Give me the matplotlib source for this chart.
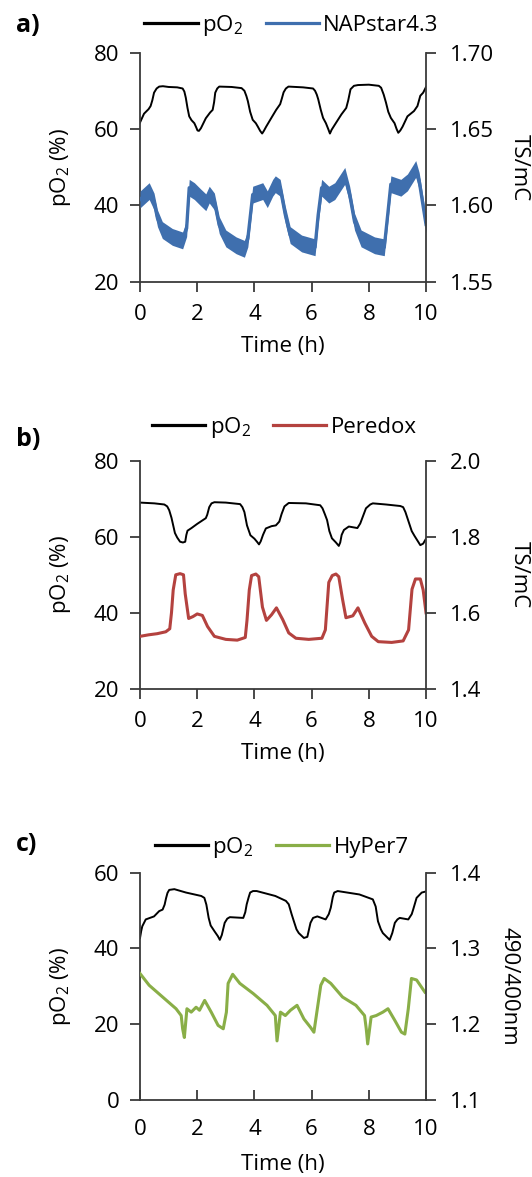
import matplotlib
matplotlib.use("Agg")
import matplotlib.pyplot as plt
from matplotlib.ticker import FormatStrFormatter

plt.rcParams["font.family"] = ["Open Sans", "DejaVu Sans"]
plt.rcParams["mathtext.fontset"] = "custom"
plt.rcParams["mathtext.rm"] = "Open Sans"
plt.rcParams["font.size"] = 16

PO2 = r"p$\mathregular{O_2}$"

# ---- panel a: pO2 and NAPstar4.3 ----
a_po2_t = [0, 0.14, 0.3, 0.37, 0.43, 0.49, 0.58, 0.67, 0.8, 1.0,
           1.3, 1.49, 1.55, 1.6, 1.66, 1.72, 1.8, 1.9, 1.96, 2.01,
           2.06, 2.13, 2.3, 2.45, 2.54, 2.59, 2.63, 2.7, 2.77, 3.2,
           3.55, 3.65, 3.72, 3.77, 3.85, 3.94, 4.05, 4.12, 4.2, 4.27,
           4.33, 4.41, 4.6, 4.76, 4.9, 4.96, 5.02, 5.1, 5.19, 5.7,
           6.05, 6.12, 6.18, 6.23, 6.32, 6.4, 6.5, 6.58, 6.64, 6.7,
           6.81, 7.04, 7.21, 7.28, 7.36, 7.48, 7.62, 8.0, 8.35, 8.43,
           8.52, 8.6, 8.68, 8.77, 8.9, 8.97, 9.03, 9.1, 9.18, 9.35,
           9.58, 9.7, 9.8, 9.9, 10.0]
a_po2 = [61.7, 64.0, 65.2, 66.0, 67.5, 69.5, 70.6, 71.1, 71.2, 71.0,
         70.9, 70.6, 69.8, 68.2, 65.5, 63.3, 62.3, 61.5, 60.5, 59.6,
         59.5, 60.2, 62.8, 64.3, 65.0, 67.0, 69.5, 70.6, 71.1, 71.0,
         70.7, 70.0, 68.6, 67.3, 64.5, 62.4, 61.5, 60.6, 59.5, 58.8,
         59.5, 60.6, 63.0, 65.0, 66.5, 68.0, 69.6, 70.6, 71.1, 70.9,
         70.6, 70.0, 69.0, 67.8, 65.0, 62.9, 61.5, 60.0, 58.8, 59.8,
         61.1, 63.8, 65.5, 67.5, 70.4, 71.3, 71.5, 71.6, 71.3, 70.8,
         69.0, 66.9, 64.5, 62.9, 61.5, 60.0, 59.0, 59.6, 60.6, 63.3,
         64.7, 66.0, 68.7, 69.5, 71.0]

a_nap_t = [0, 0.32, 0.49, 0.61, 0.78, 1.13, 1.49, 1.63, 1.72, 1.9,
           2.13, 2.3, 2.42, 2.6, 2.77, 3.0, 3.36, 3.65, 3.77, 3.94,
           4.29, 4.45, 4.64, 4.73, 4.9, 5.08, 5.25, 5.65, 6.12, 6.23,
           6.35, 6.6, 6.81, 7.16, 7.33, 7.5, 7.73, 8.2, 8.54, 8.66,
           8.77, 9.12, 9.35, 9.64, 9.76, 10.0]
a_nap = [1.6038, 1.6093, 1.6025, 1.5915, 1.5838, 1.5793, 1.5770, 1.5850, 1.6115, 1.6093,
         1.6050, 1.6020, 1.6070, 1.6025, 1.5870, 1.5783, 1.5738, 1.5715, 1.5783, 1.6070,
         1.6093, 1.6040, 1.6115, 1.6138, 1.6115, 1.5938, 1.5805, 1.5750, 1.5725, 1.5938,
         1.6115, 1.6070, 1.6093, 1.6193, 1.6070, 1.5893, 1.5783, 1.5738, 1.5725, 1.5938,
         1.6138, 1.6115, 1.6150, 1.6238, 1.6160, 1.5875]
a_nap_noise = 0.0055

# ---- panel b: pO2 and Peredox ----
b_po2_t = [0, 0.5, 0.85, 0.95, 1.02, 1.1, 1.16, 1.22, 1.3, 1.4,
           1.5, 1.58, 1.62, 1.66, 1.8, 2.0, 2.3, 2.35, 2.42, 2.5,
           2.6, 3.0, 3.5, 3.58, 3.65, 3.74, 3.86, 4.0, 4.1, 4.16,
           4.22, 4.3, 4.4, 4.6, 4.75, 4.87, 4.95, 5.05, 5.2, 5.8,
           6.3, 6.38, 6.46, 6.54, 6.62, 6.71, 6.85, 6.95, 7.0, 7.05,
           7.13, 7.3, 7.6, 7.7, 7.8, 7.9, 8.05, 8.14, 8.6, 9.1,
           9.2, 9.28, 9.39, 9.5, 9.6, 9.7, 9.8, 9.9, 10.0]
b_po2 = [69.0, 68.8, 68.5, 68.0, 67.0, 65.0, 63.0, 61.0, 59.8, 58.7,
         58.5, 58.7, 60.5, 61.6, 62.3, 63.4, 64.9, 65.8, 67.8, 68.8,
         69.1, 69.0, 68.6, 67.8, 66.5, 63.0, 60.4, 59.5, 58.6, 58.0,
         58.8, 60.5, 62.2, 62.8, 63.0, 64.0, 66.0, 68.0, 68.9, 68.8,
         68.3, 67.5, 66.0, 64.4, 61.5, 59.6, 58.5, 57.6, 58.5, 60.5,
         61.8, 62.7, 62.3, 63.5, 65.5, 67.5, 68.5, 68.8, 68.5, 68.1,
         67.8, 66.5, 64.0, 61.5, 60.2, 59.0, 57.8, 58.2, 59.5]

b_per_t = [0, 0.3, 0.6, 0.9, 1.04, 1.1, 1.16, 1.25, 1.4, 1.52, 1.58, 1.7, 1.85, 2.0, 2.18, 2.36,
           2.6, 3.0, 3.4, 3.68, 3.74, 3.82, 3.9, 4.05, 4.15, 4.28, 4.42, 4.6, 4.77, 4.99, 5.2,
           5.45, 5.9, 6.36, 6.48, 6.6, 6.72, 6.85, 6.95, 7.08, 7.2, 7.44, 7.62, 7.86, 8.1, 8.33,
           8.8, 9.2, 9.39, 9.51, 9.63, 9.8, 9.9, 10.0]
b_per = [1.538, 1.542, 1.545, 1.550, 1.558, 1.600, 1.660, 1.700, 1.703, 1.700, 1.650, 1.585,
         1.590, 1.597, 1.593, 1.564, 1.538, 1.530, 1.528, 1.535, 1.580, 1.660, 1.698, 1.702,
         1.695, 1.615, 1.580, 1.595, 1.613, 1.582, 1.547, 1.533, 1.530, 1.533, 1.555, 1.680,
         1.698, 1.702, 1.695, 1.636, 1.587, 1.592, 1.613, 1.573, 1.538, 1.524, 1.522, 1.526,
         1.555, 1.662, 1.689, 1.689, 1.660, 1.600]

# ---- panel c: pO2 and HyPer7 ----
c_po2_t = [0, 0.04, 0.08, 0.2, 0.49, 0.67, 0.79, 0.86, 0.91, 0.96,
           1.02, 1.2, 1.61, 2.14, 2.25, 2.32, 2.4, 2.47, 2.61, 2.72,
           2.79, 2.86, 2.96, 3.05, 3.14, 3.61, 3.68, 3.73, 3.8, 3.85,
           3.95, 4.08, 4.73, 5.1, 5.2, 5.3, 5.38, 5.47, 5.55, 5.73,
           5.85, 5.96, 6.05, 6.2, 6.49, 6.6, 6.67, 6.74, 6.79, 6.91,
           7.67, 8.14, 8.24, 8.32, 8.42, 8.49, 8.73, 8.82, 8.91, 9.0,
           9.08, 9.38, 9.5, 9.55, 9.62, 9.67, 9.85, 10.0]
c_po2 = [42.7, 44.5, 45.8, 47.6, 48.4, 49.8, 50.2, 51.5, 53.2, 54.6,
         55.4, 55.6, 54.7, 53.8, 53.3, 51.5, 48.0, 46.0, 44.4, 43.2,
         42.2, 43.5, 46.7, 47.8, 48.2, 48.0, 49.5, 51.6, 53.5, 54.7,
         55.1, 55.1, 53.8, 52.5, 51.6, 49.0, 47.1, 45.0, 44.0, 42.7,
         43.0, 46.7, 48.0, 48.4, 47.6, 49.0, 50.7, 53.5, 54.7, 55.1,
         54.2, 52.9, 51.0, 47.1, 45.0, 44.0, 42.2, 44.0, 46.7, 47.6,
         48.0, 47.6, 49.0, 50.2, 52.0, 53.3, 54.7, 55.0]

c_hyp_t = [0, 0.32, 0.79, 1.26, 1.44, 1.49, 1.55, 1.64, 1.79, 1.96, 2.08, 2.26, 2.49, 2.73, 2.91,
           3.02, 3.08, 3.24, 3.49, 3.96, 4.44, 4.73, 4.79, 4.91, 5.08, 5.26, 5.49, 5.73, 5.96,
           6.08, 6.2, 6.32, 6.44, 6.67, 7.08, 7.55, 7.85, 7.91, 7.96, 8.08, 8.26, 8.49, 8.67,
           8.91, 9.14, 9.26, 9.38, 9.49, 9.67, 9.96]
c_hyp = [1.2665, 1.2510, 1.2355, 1.2200, 1.2110, 1.1935, 1.1820, 1.2200, 1.2155, 1.2220, 1.2180,
         1.2310, 1.2155, 1.1980, 1.1935, 1.2155, 1.2535, 1.2655, 1.2535, 1.2400, 1.2245, 1.2110,
         1.1775, 1.2155, 1.2110, 1.2180, 1.2245, 1.2065, 1.1955, 1.1890, 1.2200, 1.2510, 1.2600,
         1.2535, 1.2355, 1.2245, 1.2110, 1.1935, 1.1735, 1.2090, 1.2110, 1.2155, 1.2200, 1.2045,
         1.1890, 1.1865, 1.2200, 1.2600, 1.2580, 1.2420]

x_ticks = [0, 2, 4, 6, 8, 10]

fig = plt.figure(figsize=(5.32, 11.77), dpi=100)
spine_col = "#3a3a3a"


def panel(rect, label, label_y, po2_t, po2, s_t, s, s_name, s_col, s_lw,
          left_lim, left_ticks, right_lim, right_ticks, right_fmt, right_label,
          right_label_x, xdir, xpad, leg_xy, noise=None):
    ax = fig.add_axes(rect)
    ax2 = ax.twinx()
    l1, = ax.plot(po2_t, po2, color="black", lw=1.4)
    if noise is not None:
        ax2.fill_between(s_t, [v - noise for v in s], [v + noise for v in s],
                         color=s_col, lw=0)
    l2, = ax2.plot(s_t, s, color=s_col, lw=s_lw)

    ax.set_xlim(0, 10)
    ax.set_ylim(*left_lim)
    ax.set_yticks(left_ticks)
    ax.set_xticks(x_ticks)
    ax2.set_ylim(*right_lim)
    ax2.set_yticks(right_ticks)
    ax2.yaxis.set_major_formatter(FormatStrFormatter(right_fmt))

    for a in (ax, ax2):
        a.spines["top"].set_visible(False)
        for sp in ("left", "right", "bottom"):
            a.spines[sp].set_color(spine_col)
            a.spines[sp].set_linewidth(1.3)
    ax.spines["right"].set_visible(False)
    ax2.spines["left"].set_visible(False)
    ax2.spines["bottom"].set_visible(False)

    ax.tick_params(axis="y", direction="out", length=7, width=1.3, color=spine_col, pad=8)
    ax.tick_params(axis="x", direction=xdir, length=7, width=1.3, color=spine_col, pad=xpad)
    ax2.tick_params(axis="y", direction="out", length=7, width=1.3, color=spine_col, pad=10)

    ax.set_ylabel(PO2 + " (%)")
    ax.yaxis.set_label_coords(-0.235, 0.5)
    ax2.set_ylabel(right_label, rotation=270, va="center")
    ax2.yaxis.set_label_coords(right_label_x, 0.5)
    ax.set_xlabel("Time (h)")
    ax.xaxis.label.set_va("center")
    ax.xaxis.set_label_coords(0.5, -0.285)

    ax2.legend([l1, l2], [PO2, s_name], loc="center", bbox_to_anchor=leg_xy,
               ncol=2, frameon=False, handlelength=2.4, handletextpad=0.2,
               columnspacing=1.0, borderaxespad=0)
    for ln in ax2.get_legend().get_lines():
        ln.set_linewidth(2.3)
    fig.text(0.03, label_y, label, fontsize=18, fontweight="bold", va="center", ha="left")
    return ax, ax2


panel([0.2632, 0.7607, 0.5376, 0.1946], "a)", 0.9783, a_po2_t, a_po2, a_nap_t, a_nap,
      "NAPstar4.3", "#3f6fae", 2.4, (20, 80), [20, 40, 60, 80], (1.55, 1.70),
      [1.55, 1.60, 1.65, 1.70], "%.2f", "TS/mC", 1.325, "out", 9, (0.53, 1.119),
      noise=a_nap_noise)

panel([0.2632, 0.4148, 0.5376, 0.1937], "b)", 0.6267, b_po2_t, b_po2, b_per_t, b_per,
      "Peredox", "#b4423f", 2.2, (20, 80), [20, 40, 60, 80], (1.4, 2.0),
      [1.4, 1.6, 1.8, 2.0], "%.1f", "TS/mC", 1.325, "out", 9, (0.505, 1.146))

panel([0.2632, 0.0658, 0.5376, 0.1929], "c)", 0.2827, c_po2_t, c_po2, c_hyp_t, c_hyp,
      "HyPer7", "#89ae47", 2.2, (0, 60), [0, 20, 40, 60], (1.1, 1.4),
      [1.1, 1.2, 1.3, 1.4], "%.1f", "490/400nm", 1.29, "in", 14, (0.495, 1.109))

fig.savefig("out.png", dpi=100)
